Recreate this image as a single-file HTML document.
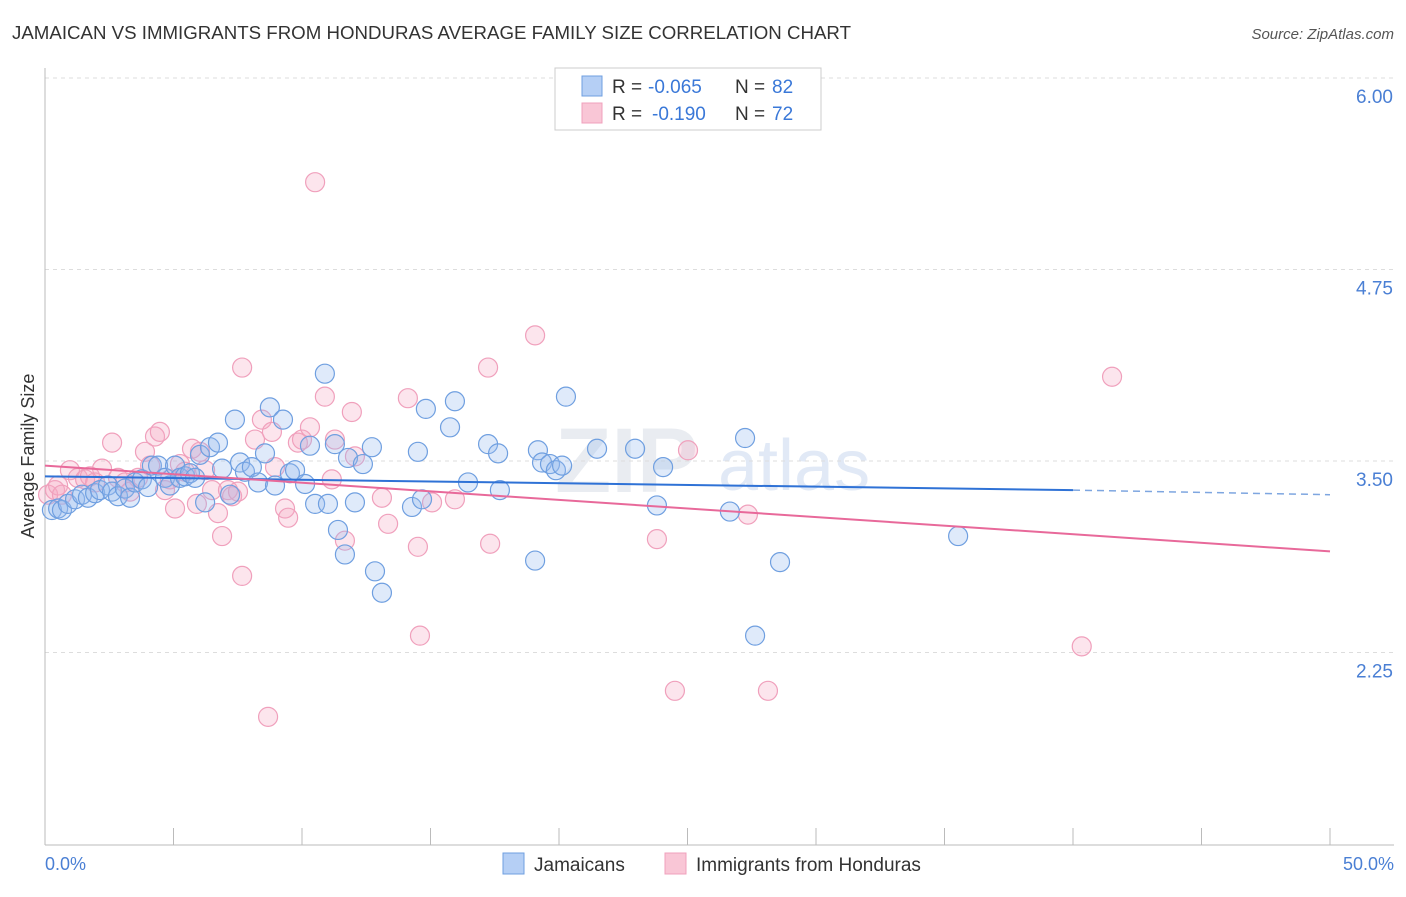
<!DOCTYPE html>
<html><head><meta charset="utf-8"><style>
body{margin:0;background:#fff;font-family:"Liberation Sans",sans-serif;}
svg text{font-family:"Liberation Sans",sans-serif;}
</style></head><body>
<svg id="chart" width="1406" height="892" xmlns="http://www.w3.org/2000/svg">
<text x="12" y="39" font-size="18" fill="#333" textLength="839" lengthAdjust="spacingAndGlyphs">JAMAICAN VS IMMIGRANTS FROM HONDURAS AVERAGE FAMILY SIZE CORRELATION CHART</text>
<text x="1394" y="39" font-size="15" fill="#555" text-anchor="end" font-style="italic">Source: ZipAtlas.com</text>
<text x="555" y="492" font-size="92" fill="#d8dde6" font-family="Liberation Serif" font-weight="bold" opacity="0.55">ZIP</text>
<text x="718" y="490" font-size="72" fill="#c9d8ef" opacity="0.55">atlas</text>
<g id="grid"></g>
<g id="marks"></g>
<text transform="translate(34,456) rotate(-90)" font-size="18" fill="#333" text-anchor="middle">Average Family Size</text>
<text x="45" y="870" font-size="18" fill="#4a7fd4">0.0%</text>
<text x="1394" y="870" font-size="18" fill="#4a7fd4" text-anchor="end">50.0%</text>
<g>
<rect x="555" y="68" width="266" height="62" fill="#fff" stroke="#ccc"/>
<rect x="582" y="76" width="20" height="20" fill="#b5cff5" stroke="#6f9fe0"/>
<rect x="582" y="103" width="20" height="20" fill="#f9c6d6" stroke="#f0a0bc"/>
<text x="612" y="93" font-size="19" fill="#333">R =</text>
<text x="648" y="93" font-size="19" fill="#3a78d8">-0.065</text>
<text x="735" y="93" font-size="19" fill="#333">N =</text>
<text x="772" y="93" font-size="19" fill="#3a78d8">82</text>
<text x="612" y="120" font-size="19" fill="#333">R =</text>
<text x="652" y="120" font-size="19" fill="#3a78d8">-0.190</text>
<text x="735" y="120" font-size="19" fill="#333">N =</text>
<text x="772" y="120" font-size="19" fill="#3a78d8">72</text>
</g>
<g>
<rect x="503" y="853" width="21" height="21" fill="#b5cff5" stroke="#6f9fe0"/>
<text x="534" y="871" font-size="19" fill="#333">Jamaicans</text>
<rect x="665" y="853" width="21" height="21" fill="#f9c6d6" stroke="#f0a0bc"/>
<text x="696" y="871" font-size="19" fill="#333">Immigrants from Honduras</text>
</g>
</svg>
<script>
const yTicks=[6.00,4.75,3.50,2.25];
const yTickLabels=["6.00","4.75","3.50","2.25"];
const xTicks=[0,5,10,15,20,25,30,35,40,45,50];
const blueX=[0.27,0.51,0.66,0.89,1.17,1.44,1.67,1.95,2.14,2.45,2.61,2.84,3.11,3.31,3.50,3.77,4.01,4.16,4.40,4.67,4.86,5.06,5.25,5.45,5.64,5.84,6.03,6.23,6.42,6.73,6.89,7.20,7.39,7.59,7.78,8.05,8.29,8.56,8.75,8.95,9.26,9.53,9.73,10.12,10.31,10.51,10.89,11.01,11.28,11.40,11.67,11.79,12.06,12.37,12.72,12.84,13.11,14.28,14.51,14.67,14.82,15.76,15.95,16.46,17.24,17.63,17.70,19.07,19.18,19.34,19.65,19.88,20.12,20.27,21.48,22.96,23.81,24.05,26.65,27.24,27.63,28.60,35.53];
const blueY=[3.18,3.19,3.18,3.22,3.25,3.28,3.26,3.29,3.31,3.34,3.30,3.27,3.32,3.26,3.36,3.38,3.33,3.47,3.47,3.39,3.34,3.47,3.39,3.40,3.42,3.39,3.54,3.23,3.59,3.62,3.45,3.28,3.77,3.49,3.43,3.46,3.36,3.55,3.85,3.34,3.77,3.42,3.44,3.35,3.60,3.22,4.07,3.22,3.61,3.05,2.89,3.52,3.23,3.48,3.59,2.78,2.64,3.20,3.56,3.25,3.84,3.72,3.89,3.36,3.61,3.55,3.31,2.85,3.57,3.49,3.48,3.44,3.47,3.92,3.58,3.58,3.21,3.46,3.17,3.65,2.36,2.84,3.01];
const pinkX=[0.12,0.39,0.51,0.66,0.97,1.28,1.56,1.75,1.95,2.22,2.61,2.84,3.11,3.31,3.62,3.89,4.09,4.28,4.47,4.67,4.86,5.06,5.25,5.45,5.72,5.91,6.03,6.23,6.50,6.73,6.89,7.12,7.28,7.51,7.67,7.67,8.17,8.44,8.68,8.83,8.95,9.34,9.46,9.84,10.00,10.31,10.51,10.89,11.16,11.28,11.67,11.94,12.06,13.11,13.35,14.12,14.51,14.59,15.06,15.95,17.24,17.32,19.07,23.81,24.51,25.02,27.35,28.13,40.34,41.52];
const pinkY=[3.28,3.31,3.34,3.28,3.44,3.39,3.38,3.40,3.36,3.45,3.62,3.39,3.36,3.30,3.39,3.56,3.47,3.66,3.69,3.31,3.38,3.19,3.48,3.43,3.58,3.22,3.56,3.44,3.31,3.16,3.01,3.31,3.27,3.30,4.11,2.75,3.64,3.77,1.83,3.69,3.46,3.19,3.13,3.62,3.64,3.72,5.32,3.92,3.38,3.64,2.98,3.82,3.53,3.26,3.09,3.91,2.94,2.36,3.23,3.25,4.11,2.96,4.32,2.99,2.00,3.57,3.15,2.00,2.29,4.05];
const blueTrendX=[0,40,50];
const blueTrendY=[3.40,3.31,3.28];
const pinkTrendX=[0,50];
const pinkTrendY=[3.47,2.91];

const NS="http://www.w3.org/2000/svg";
const xs=v=>45+v*25.7;
const ys=v=>461-(v-3.5)*153.2;
const grid=document.getElementById('grid'),marks=document.getElementById('marks');
function mk(tag,attrs,parent){const e=document.createElementNS(NS,tag);for(const k in attrs)e.setAttribute(k,attrs[k]);parent.appendChild(e);return e;}
yTicks.forEach((t,i)=>{
  const l=mk('line',{x1:45,x2:1394,y1:ys(t),y2:ys(t),stroke:'#ddd','stroke-dasharray':'4,4'},grid);
  
  
  const tx=mk('text',{x:1393,y:ys(t)+25,'font-size':19,fill:'#4a7fd4','text-anchor':'end'},grid);
  tx.textContent=yTickLabels[i];
  
  
});
const ax=mk('line',{x1:45,x2:45,y1:68,y2:845,stroke:'#bbb'},grid);


const bx=mk('line',{x1:45,x2:1394,y1:845,y2:845,stroke:'#bbb'},grid);


xTicks.forEach(t=>{
  const l=mk('line',{x1:xs(t),x2:xs(t),y1:828,y2:845,stroke:'#bbb'},grid);
  
  
});
function dots(X,Y,fill,stroke,name){
  X.forEach((x,i)=>{
    const c=mk('circle',{cx:xs(x),cy:ys(Y[i]),r:9.5,fill:fill,stroke:stroke,'stroke-width':1.2},marks);
    
    
  });
}
dots(pinkX,pinkY,'rgba(245,170,195,0.3)','#f0a0bc','honduras-point');
dots(blueX,blueY,'rgba(150,185,240,0.3)','#6f9fe0','jamaican-point');
const b1=mk('line',{x1:xs(blueTrendX[0]),y1:ys(blueTrendY[0]),x2:xs(blueTrendX[1]),y2:ys(blueTrendY[1]),stroke:'#2f72d6','stroke-width':2},marks);


const b2=mk('line',{x1:xs(blueTrendX[1]),y1:ys(blueTrendY[1]),x2:xs(blueTrendX[2]),y2:ys(blueTrendY[2]),stroke:'#7ea6e0','stroke-width':1.5,'stroke-dasharray':'7,5'},marks);


const p1=mk('line',{x1:xs(pinkTrendX[0]),y1:ys(pinkTrendY[0]),x2:xs(pinkTrendX[1]),y2:ys(pinkTrendY[1]),stroke:'#e8699a','stroke-width':2},marks);


</script>
</body></html>
